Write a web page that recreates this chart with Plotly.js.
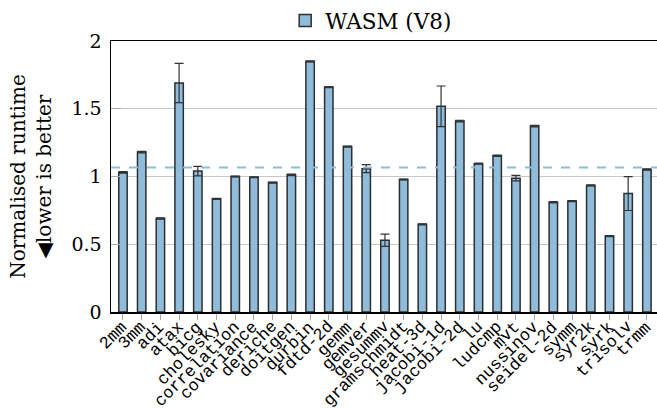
<!DOCTYPE html>
<html>
<head>
<meta charset="utf-8">
<script src="https://cdn.plot.ly/plotly-3.0.1.min.js"></script>
<style>html,body{margin:0;padding:0;overflow:hidden;background:#fff}</style>
</head>
<body>
<div id="chart" style="width:657px;height:409px"></div>
<script>
const benchmarks = ["2mm","3mm","adi","atax","bicg","cholesky","correlation","covariance","deriche","doitgen","durbin","fdtd-2d","gemm","gemver","gesummv","gramschmidt","heat-3d","jacobi-1d","jacobi-2d","lu","ludcmp","mvt","nussinov","seidel-2d","symm","syr2k","syrk","trisolv","trmm"];
const runtimeV8 = [1.03,1.18,0.69,1.69,1.04,0.835,1.0,0.995,0.955,1.012,1.849,1.659,1.221,1.058,0.53,0.978,0.647,1.518,1.409,1.095,1.153,0.988,1.372,0.81,0.818,0.934,0.56,0.874,1.051];
const errorV8 = [0.006,0.006,0.004,0.145,0.035,0.004,0.003,0.003,0.004,0.005,0.004,0.004,0.004,0.03,0.045,0.003,0.004,0.15,0.006,0.004,0.005,0.02,0.006,0.004,0.004,0.004,0.004,0.125,0.005];
const meanRuntime = 1.067;
const yTicks = [0,0.5,1,1.5,2];
const yTickLabels = ["0","0.5","1","1.5","2"];

const serif = "DejaVu Serif, serif";
const mono = "Liberation Mono, DejaVu Sans Mono, monospace";

const trace = {
  type: "bar",
  name: "WASM (V8)",
  x: benchmarks,
  y: runtimeV8,
  width: 0.45,
  marker: {color: "#8fbcdb", line: {color: "#2e2e2e", width: 1.5}},
  error_y: {type: "data", array: errorV8, visible: true, color: "#333", thickness: 1.2, width: 4.5}
};

const labelAnnotations = benchmarks.map(name => ({
  xref: "x", x: name, yref: "paper", y: 0,
  text: name, showarrow: false, textangle: -45,
  xanchor: "right", yanchor: "top", xshift: 11, yshift: -3,
  font: {family: mono, size: 17, color: "#000"}
}));

const layout = {
  width: 657, height: 409,
  margin: {l: 111, r: 0, t: 38, b: 97},
  paper_bgcolor: "#fff", plot_bgcolor: "#fff",
  showlegend: true,
  legend: {orientation: "h", x: 0.319, xanchor: "left", y: 1, yanchor: "bottom",
           font: {family: serif, size: 21.5, color: "#000"}, bgcolor: "rgba(0,0,0,0)",
           itemwidth: 30},
  xaxis: {
    type: "category", range: [-0.64, 28.54],
    tickmode: "array", tickvals: benchmarks, showticklabels: false, automargin: false,
    ticks: "outside", ticklen: 6, tickcolor: "#aaa", tickwidth: 1,
    showline: true, linecolor: "#000", linewidth: 1.5, mirror: true,
    showgrid: false, zeroline: false, fixedrange: true
  },
  yaxis: {
    range: [0, 2], tickmode: "array", tickvals: yTicks, ticktext: yTickLabels,
    tickfont: {family: serif, size: 19, color: "#000"},
    ticks: "inside", ticklen: 10, tickcolor: "#aaa", ticklabelstandoff: 4,
    showline: true, linecolor: "#000", linewidth: 1.5, automargin: false,
    showgrid: true, gridcolor: "#c8c8c8", gridwidth: 1, zeroline: false,
    title: {text: "Normalised runtime<br>◀lower is better", font: {family: serif, size: 20, color: "#000"}, standoff: 14}
  },
  annotations: labelAnnotations,
  shapes: [{type: "line", xref: "paper", x0: 0, x1: 1, yref: "y", y0: meanRuntime, y1: meanRuntime,
            line: {color: "#8fbcdb", width: 2, dash: "dash"}, layer: "above"}]
};

Plotly.newPlot("chart", [trace], layout, {displayModeBar: false, staticPlot: true});
</script>
</body>
</html>
